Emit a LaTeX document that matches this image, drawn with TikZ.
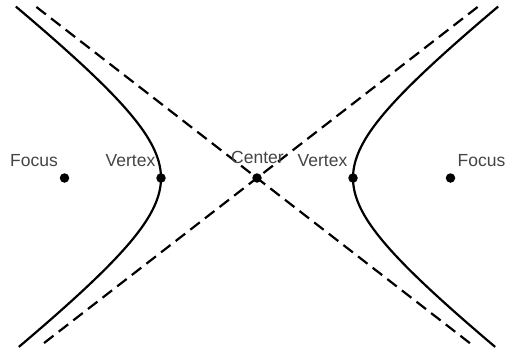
\documentclass[tikz,border=0pt]{standalone}
\usepackage{fontspec}
\setmainfont{Liberation Sans}
\definecolor{labelgray}{HTML}{444444}
\begin{document}
\begin{tikzpicture}[x=1pt,y=-1pt,
  curve/.style={line width=2.2pt,black},
  asym/.style={line width=2.2pt,black,dash pattern=on 12pt off 6.5pt},
  dot/.style={circle,fill=black,inner sep=0pt,minimum size=9.5pt},
  lbl/.style={anchor=base,inner sep=0pt,text=labelgray,font=\fontsize{17.5}{20}\selectfont}]
\useasboundingbox (0,0) rectangle (506,349);
% asymptote end points
\coordinate (a1) at (36.4,7);
\coordinate (a2) at (471,344);
\coordinate (b1) at (477.6,7);
\coordinate (b2) at (42.8,344);
\draw[asym] (a1) -- (a2);
\draw[asym] (b1) -- (b2);
% hyperbola branches
\draw[curve] plot[domain=-1.572:1.56,samples=120,smooth] ({257-96*cosh(\x)},{178+74.4*sinh(\x)});
\draw[curve] plot[domain=-1.572:1.56,samples=120,smooth] ({257+96*cosh(\x)},{178+74.4*sinh(\x)});
% points
\node[dot] (f1) at (64.5,178) {};
\node[dot] (v1) at (161,178) {};
\node[dot] (c) at (257,178) {};
\node[dot] (v2) at (353,178) {};
\node[dot] (f2) at (450.5,178) {};
% labels
\node[lbl] (lf1) at (34,166.7) {Focus};
\node[lbl] (lv1) at (130.5,166.7) {Vertex};
\node[lbl] (lc) at (257.5,163) {Center};
\node[lbl] (lv2) at (322.5,166.7) {Vertex};
\node[lbl] (lf2) at (481.5,166.7) {Focus};
\end{tikzpicture}
\end{document}
